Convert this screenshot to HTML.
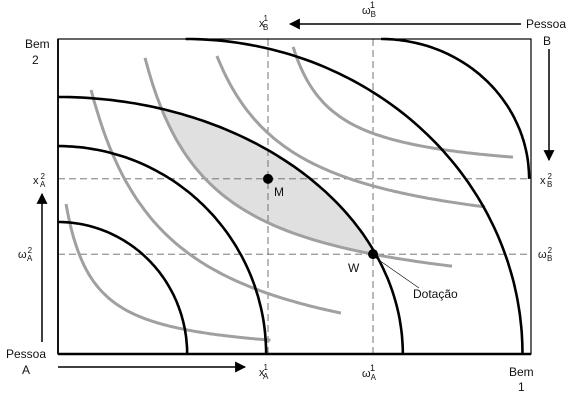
<!DOCTYPE html>
<html><head><meta charset="utf-8"><style>
html,body{margin:0;padding:0;background:#fff;}
svg{display:block;font-family:"Liberation Sans",sans-serif;}
text{fill:#111;}
</style></head><body>
<svg id="c" width="571" height="401" viewBox="0 0 571 401">
<defs><marker id="ah" viewBox="0 0 10 10" refX="9" refY="5" markerWidth="8" markerHeight="8" markerUnits="userSpaceOnUse" orient="auto"><path d="M0,0L10,5L0,10z" fill="#000"/></marker>
<marker id="ah2" viewBox="0 0 10 10" refX="9" refY="5" markerWidth="11" markerHeight="11" markerUnits="userSpaceOnUse" orient="auto"><path d="M0,0L10,5L0,10z" fill="#000"/></marker></defs>
<g id="shade"></g>
<g id="guides"></g>
<g id="grays"></g>
<g id="blacks"></g>
<rect x="58" y="39" width="473" height="315" fill="none" stroke="#000" stroke-width="1.2"/>
<line x1="58" y1="354" x2="531" y2="354" stroke="#000" stroke-width="2.5"/>
<line x1="58" y1="39" x2="58" y2="354" stroke="#000" stroke-width="1.8"/>
<g id="pts"></g>
<!-- arrows -->
<line x1="521" y1="24" x2="290" y2="24" stroke="#000" stroke-width="1.5" marker-end="url(#ah2)"/>
<line x1="549" y1="49" x2="549" y2="160" stroke="#000" stroke-width="1.5" marker-end="url(#ah2)"/>
<line x1="42" y1="342" x2="42" y2="194" stroke="#000" stroke-width="1.5" marker-end="url(#ah2)"/>
<line x1="58" y1="367" x2="245" y2="367" stroke="#000" stroke-width="1.5" marker-end="url(#ah2)"/>
<!-- labels -->
<g font-size="12">
<text x="526" y="28">Pessoa</text>
<text x="543" y="45">B</text>
<text x="6" y="358">Pessoa</text>
<text x="22" y="374">A</text>
<text x="25" y="48">Bem</text>
<text x="32" y="64">2</text>
<text x="509" y="376">Bem</text>
<text x="518" y="391">1</text>
<text x="346" y="298" font-size="12" transform="translate(67,0)">Dotação</text>
<text x="274" y="196">M</text>
<text x="348" y="272">W</text>
</g>
<g font-size="11">
<text x="259" y="27">x<tspan font-size="8" dy="-6" dx="-1">1</tspan><tspan font-size="8" dy="9" dx="-5">B</tspan></text>
<text x="362" y="14">ω<tspan font-size="8" dy="3">B</tspan><tspan font-size="9" dy="-9" dx="-6">1</tspan></text>
<text x="259" y="376">x<tspan font-size="8" dy="-6" dx="-1">1</tspan><tspan font-size="8" dy="9" dx="-5">A</tspan></text>
<text x="362" y="377">ω<tspan font-size="8" dy="3">A</tspan><tspan font-size="9" dy="-9" dx="-6">1</tspan></text>
<text x="33" y="184">x<tspan font-size="8" dy="-5" dx="2">2</tspan><tspan font-size="8" dy="8" dx="-5">A</tspan></text>
<text x="18" y="258">ω<tspan font-size="8" dy="-5" dx="1">2</tspan><tspan font-size="8" dy="8" dx="-5">A</tspan></text>
<text x="540" y="184">x<tspan font-size="8" dy="-5" dx="2">2</tspan><tspan font-size="8" dy="8" dx="-5">B</tspan></text>
<text x="538" y="258">ω<tspan font-size="8" dy="-5" dx="1">2</tspan><tspan font-size="8" dy="8" dx="-5">B</tspan></text>
</g>
<line x1="376" y1="258" x2="419" y2="288" stroke="#000" stroke-width="0.6"/>
</svg>
<script>
// data space: good 1 (0..100) x good 2 (0..100)
const xPx0=58, xPx1=531, yPx0=354, yPx1=39;
function sx(u){return xPx0+u*(xPx1-xPx0)/100;}
function sy(v){return yPx0-v*(yPx0-yPx1)/100;}
function ux(px){return (px-xPx0)*100/(xPx1-xPx0);}
function vy(py){return (yPx0-py)*100/(yPx0-yPx1);}
// Person A indifference curves (quarter ellipses): centre & radii in data units
const blackCx=[0,0,0,27,68.3];
const blackCy=[0,0,0,0,55.6];
const blackRx=[27.3,44,72.9,71.2,31.3];
const blackRy=[41.9,66,81.6,100,44.4];
// Person B indifference curves: start, middle, end points (data units)
const grayX=[[1.7,13.3,44.9],[7,26.4,59.8],[18.4,66.6,83.3],[33.6,63.8,90.3],[49.7,56,96.2]];
const grayY=[[47.6,14.9,4.4],[83.8,33.3,13],[94,31.7,27.9],[94.6,54.6,46.7],[97.5,80,62.5]];
// points & guides
const mX=44.4, mY=55.6, wX=66.6, wY=31.7;
const NS='http://www.w3.org/2000/svg';
function mk(tag,attrs,parent){const e=document.createElementNS(NS,tag);for(const k in attrs)e.setAttribute(k,attrs[k]);document.getElementById(parent).appendChild(e);return e;}
function fitHyp(xs,ys){ // y = y0 - k/(x-x0)
  const r=(ys[1]-ys[0])/(ys[2]-ys[1]);
  function f(x0){return (1/(xs[0]-x0)-1/(xs[1]-x0))/(1/(xs[1]-x0)-1/(xs[2]-x0))-r;}
  let lo=xs[0]-500, hi=xs[0]-0.01;
  for(let i=0;i<80;i++){const m=(lo+hi)/2; if(Math.sign(f(m))===Math.sign(f(lo)))lo=m; else hi=m;}
  const x0=(lo+hi)/2;
  const k=(ys[1]-ys[0])/(1/(xs[0]-x0)-1/(xs[1]-x0));
  const y0=ys[0]+k/(xs[0]-x0);
  return x=>y0-k/(x-x0);
}
const hyps=[];
for(let i=0;i<grayX.length;i++){
  const h=fitHyp(grayX[i],grayY[i]);hyps.push(h);
  let d='';const a=grayX[i][0],b=grayX[i][2];
  for(let j=0;j<=80;j++){const u=a+(b-a)*j/80;d+=(j?'L':'M')+sx(u).toFixed(1)+','+sy(h(u)).toFixed(1);}
  const p=mk('path',{d:d,fill:'none',stroke:'#a0a0a0','stroke-width':3},'grays');
  
  
}
function ell(i,t){return [blackCx[i]+blackRx[i]*Math.cos(t),blackCy[i]+blackRy[i]*Math.sin(t)];}
for(let i=0;i<blackCx.length;i++){
  let d='';
  for(let j=0;j<=90;j++){const t=Math.PI/2*j/90;const q=ell(i,t);d+=(j?'L':'M')+sx(q[0]).toFixed(1)+','+sy(q[1]).toFixed(1);}
  const p=mk('path',{d:d,fill:'none',stroke:'#000','stroke-width':2.6},'blacks');
  
  
}
// shaded lens between black curve 3 and gray curve 3
(function(){
  const i=2,h=hyps[2];
  function ey(u){const c=(u-blackCx[i])/blackRx[i];return blackCy[i]+blackRy[i]*Math.sqrt(Math.max(0,1-c*c));}
  let lo=grayX[2][0],hi=wX-3;
  const g=u=>ey(u)-h(u);
  for(let k=0;k<60;k++){const m=(lo+hi)/2;if(g(m)<0)lo=m;else hi=m;}
  const a=(lo+hi)/2;
  let d='';
  for(let j=0;j<=60;j++){const u=a+(wX-a)*j/60;d+=(j?'L':'M')+sx(u).toFixed(1)+','+sy(h(u)).toFixed(1);}
  for(let j=60;j>=0;j--){const u=a+(wX-a)*j/60;d+='L'+sx(u).toFixed(1)+','+sy(ey(u)).toFixed(1);}
  const p=mk('path',{d:d+'Z',fill:'#e0e0e0',stroke:'none'},'shade');
  
  
})();
const gl=[[sx(mX),39,sx(mX),354,'guide-x1'],[sx(wX),39,sx(wX),354,'guide-omega1'],[58,sy(mY),531,sy(mY),'guide-x2'],[58,sy(wY),531,sy(wY),'guide-omega2']];
for(const L of gl){
  const e=mk('line',{x1:L[0],y1:L[1],x2:L[2],y2:L[3],stroke:'#666','stroke-width':0.9,'stroke-dasharray':'7,4'},'guides');
  
  
}
const m=mk('circle',{cx:sx(mX),cy:sy(mY),r:5,fill:'#000'},'pts');


const w=mk('circle',{cx:sx(wX),cy:sy(wY),r:5,fill:'#000'},'pts');


</script>
</body></html>
